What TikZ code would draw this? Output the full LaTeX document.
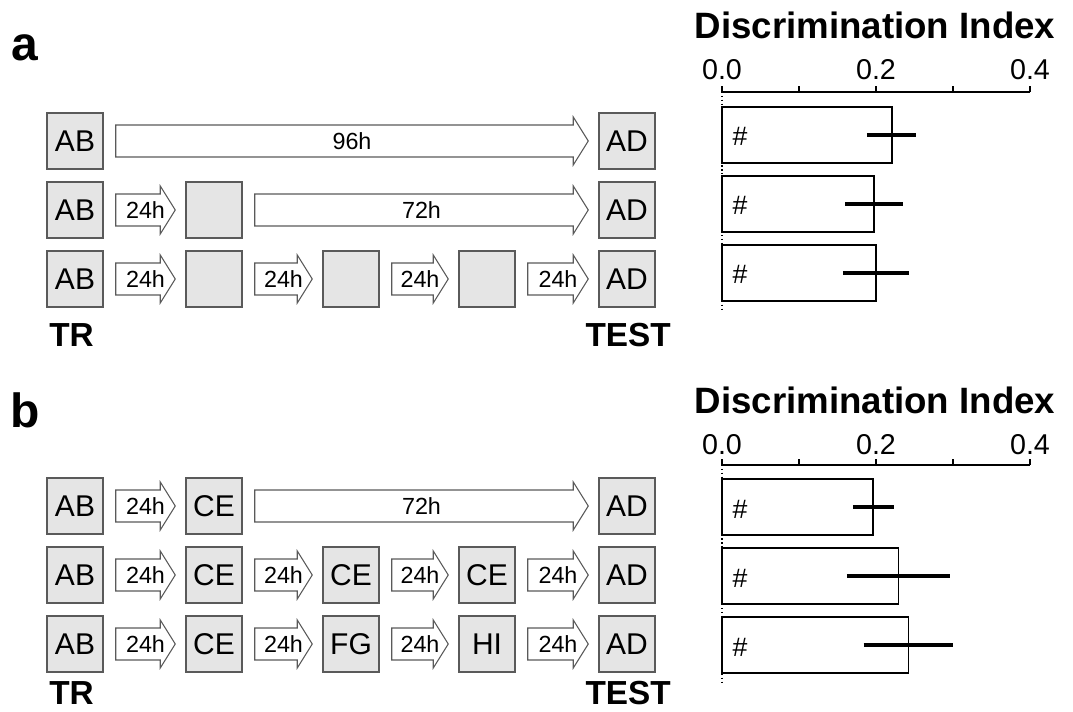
\documentclass[tikz,border=0pt]{standalone}
\usepackage{fontspec}
\setmainfont{Liberation Sans}
\usetikzlibrary{calc,positioning}

\definecolor{boxfill}{RGB}{229,229,229}
\definecolor{boxline}{RGB}{90,90,90}

\tikzset{
  cond/.style={draw=boxline, fill=boxfill, line width=1.1pt, minimum size=42pt,
    inner sep=0pt, font=\fontsize{22.5}{27}\selectfont},
  dayarrow/.style={draw=boxline, fill=white, line width=0.8pt},
  daytext/.style={font=\fontsize{17.5}{20}\selectfont, inner sep=0pt},
  phase/.style={font=\fontsize{25}{30}\selectfont\bfseries, inner sep=0pt},
  panel/.style={font=\fontsize{36}{40}\selectfont\bfseries, inner sep=0pt},
  axtitle/.style={font=\fontsize{27.5}{32}\selectfont\bfseries, inner sep=0pt},
  ticklabel/.style={font=\fontsize{21.5}{26}\selectfont, inner sep=0pt},
  axisline/.style={line width=2.2pt},
  zeroline/.style={dotted, line width=0.9pt},
  bar/.style={draw=black, fill=white, line width=1.2pt},
  errbar/.style={line width=2.8pt},
  sig/.style={font=\fontsize{20}{24}\selectfont, inner sep=0pt, anchor=base}
}

% block arrow from one box to the next
\newcommand{\delay}[3]{%
  \path[dayarrow] let \p1=($(#1.east)+(12,0)$), \p2=($(#2.west)+(-10,0)$) in
    (\x1,\y1+12pt) -- (\x2-11.25pt,\y1+12pt) -- (\x2-11.25pt,\y1+18pt) -- (\x2,\y1)
    -- (\x2-11.25pt,\y1-18pt) -- (\x2-11.25pt,\y1-12pt) -- (\x1,\y1-12pt) -- cycle
    node[daytext] at ({0.5*\x1+0.5*\x2},\y1) {#3};}

\begin{document}
\begin{tikzpicture}[x=0.75pt, y=-0.75pt]
  \useasboundingbox (0,0) rectangle (1073,712);

  % ---------------- panel a ----------------
  \node[panel, anchor=base] (la) at (25,61) {a};

  % row 1
  \node[cond] (a11) at (75,141) {AB};
  \node[cond] (a15) at (627,141) {AD};
  \delay{a11}{a15}{96h}

  % row 2
  \node[cond] (a21) at (75,210) {AB};
  \node[cond] (a22) at (214,210) {};
  \node[cond] (a25) at (627,210) {AD};
  \delay{a21}{a22}{24h}
  \delay{a22}{a25}{72h}

  % row 3
  \node[cond] (a31) at (75,279) {AB};
  \node[cond] (a32) at (214,279) {};
  \node[cond] (a33) at (351,279) {};
  \node[cond] (a34) at (487,279) {};
  \node[cond] (a35) at (627,279) {AD};
  \delay{a31}{a32}{24h}
  \delay{a32}{a33}{24h}
  \delay{a33}{a34}{24h}
  \delay{a34}{a35}{24h}

  \node[phase, anchor=west] (trA) at (49,335) {TR};
  \node[phase, anchor=east] (testA) at (671,335) {TEST};

  % chart a
  \node[axtitle] (titleA) at (875,25) {Discrimination Index};
  \foreach \v/\t in {0/0.0, 0.2/0.2, 0.4/0.4}
    \node[ticklabel] at ({722+770*\v},70) {\t};
  \draw[axisline] (722,92) -- (1030,92);
  \foreach \k in {0,...,4}
    \draw[axisline] ({722+77*\k},92) -- ({722+77*\k},86);
  \draw[zeroline] (722,92) -- (722,310);
  \foreach \yt/\m/\lo/\hi in {107/0.221/0.188/0.252, 176/0.197/0.160/0.235, 245/0.200/0.157/0.243} {
    \draw[bar] (722,\yt) rectangle ({722+770*\m},\yt+56);
    \node[sig] at (740,\yt+39) {\#};
    \draw[errbar] ({722+770*\lo},\yt+28) -- ({722+770*\hi},\yt+28);
  }

  % ---------------- panel b ----------------
  \node[panel, anchor=base] (lb) at (25,427) {b};

  % row 1
  \node[cond] (b11) at (75,506) {AB};
  \node[cond] (b12) at (214,506) {CE};
  \node[cond] (b15) at (627,506) {AD};
  \delay{b11}{b12}{24h}
  \delay{b12}{b15}{72h}

  % row 2
  \node[cond] (b21) at (75,575) {AB};
  \node[cond] (b22) at (214,575) {CE};
  \node[cond] (b23) at (351,575) {CE};
  \node[cond] (b24) at (487,575) {CE};
  \node[cond] (b25) at (627,575) {AD};
  \delay{b21}{b22}{24h}
  \delay{b22}{b23}{24h}
  \delay{b23}{b24}{24h}
  \delay{b24}{b25}{24h}

  % row 3
  \node[cond] (b31) at (75,644) {AB};
  \node[cond] (b32) at (214,644) {CE};
  \node[cond] (b33) at (351,644) {FG};
  \node[cond] (b34) at (487,644) {HI};
  \node[cond] (b35) at (627,644) {AD};
  \delay{b31}{b32}{24h}
  \delay{b32}{b33}{24h}
  \delay{b33}{b34}{24h}
  \delay{b34}{b35}{24h}

  \node[phase, anchor=west] (trB) at (49,693) {TR};
  \node[phase, anchor=east] (testB) at (671,693) {TEST};

  % chart b
  \node[axtitle] (titleB) at (875,400) {Discrimination Index};
  \foreach \v/\t in {0/0.0, 0.2/0.2, 0.4/0.4}
    \node[ticklabel] at ({722+770*\v},445) {\t};
  \draw[axisline] (722,465) -- (1030,465);
  \foreach \k in {0,...,4}
    \draw[axisline] ({722+77*\k},465) -- ({722+77*\k},459);
  \draw[zeroline] (722,465) -- (722,682);
  \foreach \yt/\m/\lo/\hi in {479/0.196/0.170/0.223, 548/0.229/0.162/0.296, 617/0.242/0.184/0.300} {
    \draw[bar] (722,\yt) rectangle ({722+770*\m},\yt+56);
    \node[sig] at (740,\yt+39) {\#};
    \draw[errbar] ({722+770*\lo},\yt+28) -- ({722+770*\hi},\yt+28);
  }
\end{tikzpicture}
\end{document}
